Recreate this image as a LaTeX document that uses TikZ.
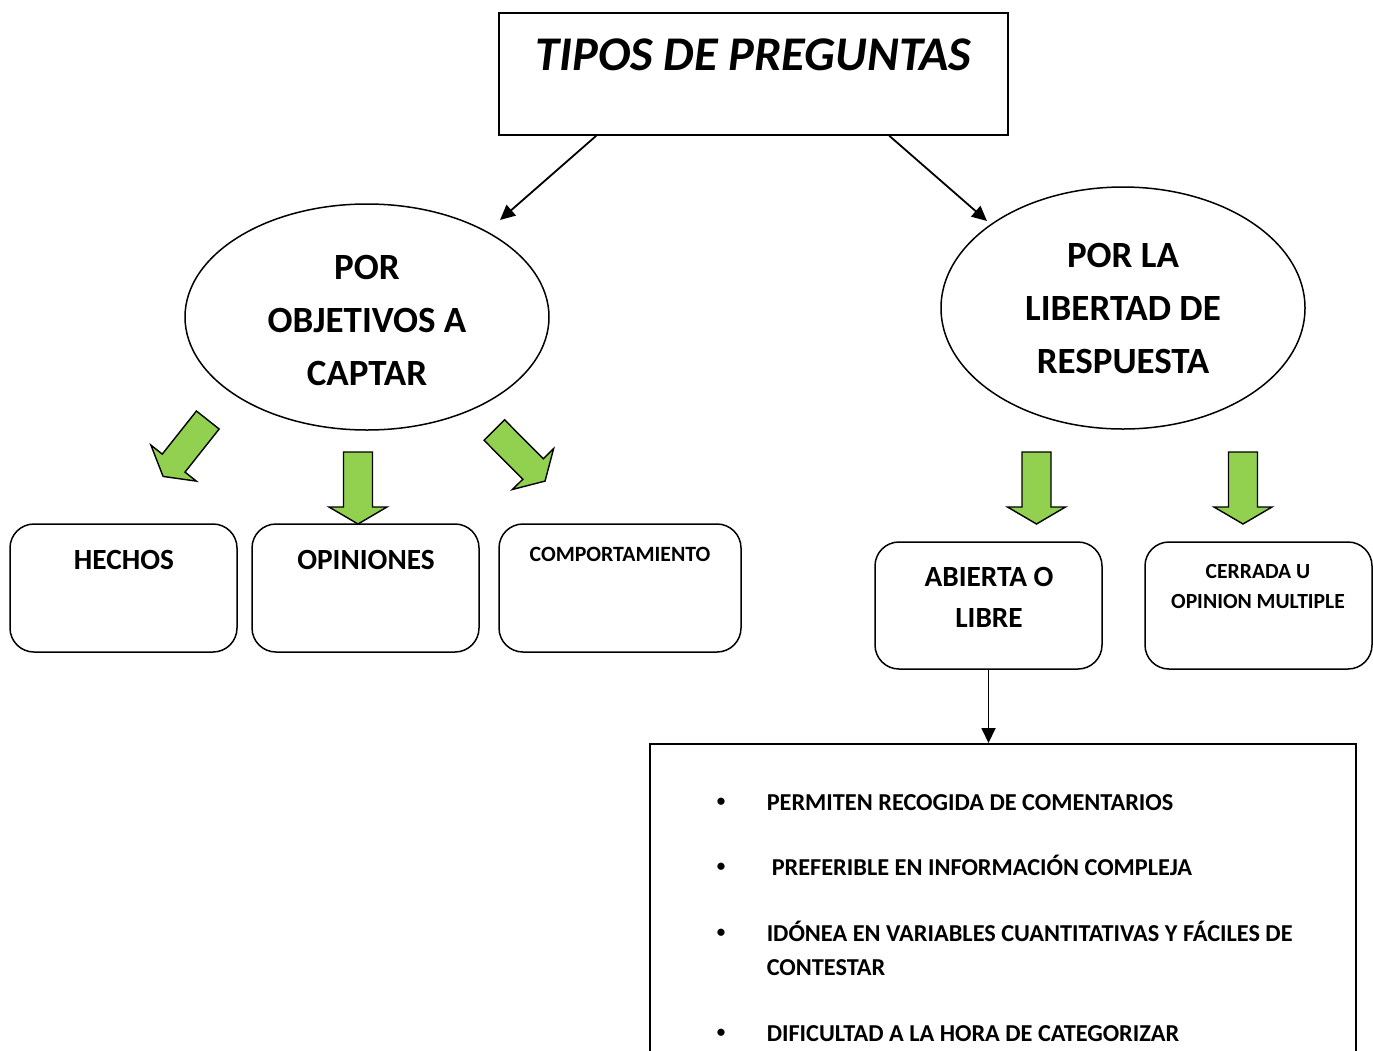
\documentclass[tikz,border=0pt]{standalone}
\usepackage{fontspec}
\setmainfont{Carlito}
\usetikzlibrary{shapes.geometric,arrows.meta}
\definecolor{arrowgreen}{RGB}{146,208,80}
\begin{document}
\begin{tikzpicture}[x=1pt,y=-1pt,
  line width=1.5pt,
  sq/.style={draw, rectangle, inner sep=0pt},
  rbox/.style={draw, rectangle, rounded corners=24pt, minimum width=227pt, minimum height=128pt, inner sep=0pt},
  oval/.style={draw, ellipse, inner sep=0pt, align=center, minimum width=364pt,
    font=\bfseries\fontsize{37}{53}\selectfont},
  conn/.style={line width=1.8pt, -{Triangle[length=15pt,width=14pt]}},
  garrow/.style={draw, fill=arrowgreen, line join=miter, line width=1.4pt},
  lbl/.style={inner sep=0pt, align=center},
  item/.style={inner sep=0pt, font=\bfseries\fontsize{24.3}{28}\selectfont},
  bul/.style={inner sep=0pt, font=\bfseries\fontsize{17}{20}\selectfont},
  greenarrow/.pic={\draw[garrow] (-14.5,0) -- (14.5,0) -- (14.5,55) -- (29,55) -- (0,72) -- (-29,55) -- (-14.5,55) -- cycle;}
]
\useasboundingbox (0,0) rectangle (1373,1050);

% title
\node[sq, minimum width=509pt, minimum height=122pt] (top) at (753.5,74) {};
\node[lbl, font=\bfseries\itshape\fontsize{48.4}{58}\selectfont] (title) at (753.5,55) {TIPOS DE PREGUNTAS};

% ellipses
\node[oval, minimum height=226pt] (left) at (367,317) {};
\node[lbl, font=\bfseries\fontsize{37}{53}\selectfont] (leftT) at (367,320) {POR\\OBJETIVOS A\\CAPTAR};
\node[oval, minimum height=242pt] (right) at (1123,308) {POR LA\\LIBERTAD DE\\RESPUESTA};

\coordinate (tipL) at (500,220);
\coordinate (tipR) at (987,221);
\draw[conn] ([xshift=98pt]top.south west) -- (tipL);
\draw[conn] ([xshift=391pt]top.south west) -- (tipR);

% green arrows
\pic[rotate=-38.4] (g1) at (207.8,420) {greenarrow};
\pic (g2) at (358,452) {greenarrow};
\pic[rotate=44.8] (g3) at (494.3,430) {greenarrow};
\pic (g4) at (1036.5,452) {greenarrow};
\pic (g5) at (1243,452) {greenarrow};

% boxes
\node[rbox] (hechos) at (123.5,588) {};
\node[rbox] (opin) at (365.5,588) {};
\node[rbox, minimum width=242pt] (comp) at (620,588) {};
\node[rbox, minimum height=127pt] (abierta) at (988.5,605.5) {};
\node[rbox, minimum height=127pt] (cerrada) at (1258.5,605.5) {};

\node[lbl, font=\bfseries\fontsize{29.3}{34}\selectfont] (hechosT) at (124,560) {HECHOS};
\node[lbl, font=\bfseries\fontsize{29.3}{34}\selectfont] (opinT) at (366,560) {OPINIONES};
\node[lbl, font=\bfseries\fontsize{21.8}{25}\selectfont] (compT) at (620,554) {COMPORTAMIENTO};
\node[lbl, font=\bfseries\fontsize{29.3}{41}\selectfont] (abiertaT) at (989,597) {ABIERTA O\\LIBRE};
\node[lbl, font=\bfseries\fontsize{21.6}{30}\selectfont] (cerradaT) at (1258,586) {CERRADA U\\OPINION MULTIPLE};

% list box
\node[sq, minimum width=706pt, minimum height=400pt, anchor=north west] (list) at (649,743) {};
\draw[conn] (abierta.south) -- (abierta.south |- list.north);

\node[bul] (b1) at (721,802) {•};
\node[item, anchor=base west] (i1) at (766,810) {PERMITEN RECOGIDA DE COMENTARIOS};
\node[bul] (b2) at (721,867) {•};
\node[item, anchor=base west] (i2) at (771,875) {PREFERIBLE EN INFORMACIÓN COMPLEJA};
\node[bul] (b3) at (721,933) {•};
\node[item, anchor=base west] (i3) at (766,941) {IDÓNEA EN VARIABLES CUANTITATIVAS Y FÁCILES DE};
\node[item, anchor=base west] (i3b) at (766,975) {CONTESTAR};
\node[bul] (b4) at (721,1033) {•};
\node[item, anchor=base west] (i4) at (766,1041) {DIFICULTAD A LA HORA DE CATEGORIZAR};
\end{tikzpicture}
\end{document}
